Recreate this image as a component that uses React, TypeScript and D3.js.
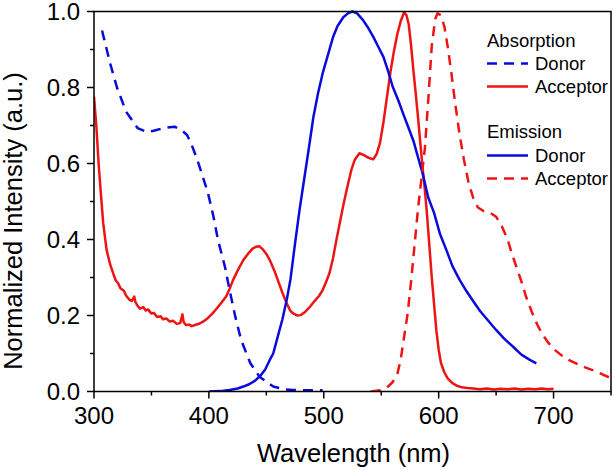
import React from "react";
import * as d3 from "d3";

const W = 614, H = 470;
const M = { left: 94, right: 3, top: 11.5, bottom: 78.5 };

const xTicks = [300, 400, 500, 600, 700];
const xMinor = [350, 450, 550, 650, 750];
const yTicks = [0, 0.2, 0.4, 0.6, 0.8, 1.0];
const yMinor = [0.1, 0.3, 0.5, 0.7, 0.9];

// Donor absorption (dashed blue)
const donorAbsWl = [307, 314, 320, 328, 338, 346, 352, 359, 364, 370, 376, 381, 385, 390, 399, 404, 408, 414, 418, 423, 428, 436, 444, 450, 456, 465, 473, 485, 499];
const donorAbsVal = [0.95, 0.864, 0.8, 0.736, 0.693, 0.683, 0.686, 0.692, 0.695, 0.697, 0.688, 0.675, 0.649, 0.609, 0.525, 0.46, 0.398, 0.328, 0.267, 0.197, 0.136, 0.075, 0.039, 0.026, 0.013, 0.006, 0.004, 0.003, 0.003];

// Acceptor absorption (solid red)
const accAbsWl = [300, 302, 304, 306, 308, 311, 314, 317, 319, 321, 323, 326, 328, 331, 333, 335, 336, 338, 340, 343, 345, 347, 350, 352, 355, 358, 360, 363, 366, 369, 372, 375, 377, 378, 380, 383, 385, 388, 392, 396, 399, 403, 407, 411, 415, 418, 421, 425, 430, 434, 438, 441, 444, 447, 450, 453, 457, 460, 464, 468, 471, 474, 477, 480, 484, 488, 492, 496, 499, 502, 505, 508, 511, 514, 517, 521, 524, 527, 531, 535, 539, 543, 546, 549, 552, 555, 558, 561, 564, 567, 570, 572, 574, 576, 578, 580, 582, 584, 586, 588, 590, 592, 594, 596, 598, 600, 602, 605, 608, 612, 616, 620, 625, 630, 636, 642, 648, 654, 660, 666, 672, 678, 684, 690, 695, 700];
const accAbsVal = [0.776, 0.7, 0.6, 0.52, 0.443, 0.372, 0.335, 0.308, 0.292, 0.285, 0.272, 0.265, 0.252, 0.241, 0.238, 0.25, 0.236, 0.225, 0.218, 0.222, 0.213, 0.216, 0.205, 0.207, 0.196, 0.198, 0.19, 0.192, 0.184, 0.186, 0.178, 0.18, 0.203, 0.183, 0.175, 0.176, 0.172, 0.175, 0.179, 0.186, 0.193, 0.205, 0.219, 0.234, 0.25, 0.27, 0.293, 0.318, 0.346, 0.362, 0.376, 0.381, 0.382, 0.374, 0.362, 0.346, 0.318, 0.293, 0.26, 0.23, 0.212, 0.204, 0.2, 0.201, 0.21, 0.223, 0.238, 0.252, 0.267, 0.288, 0.312, 0.35, 0.399, 0.445, 0.49, 0.545, 0.583, 0.61, 0.627, 0.622, 0.615, 0.611, 0.625, 0.655, 0.71, 0.775, 0.84, 0.895, 0.94, 0.975, 0.998, 0.99, 0.965, 0.91, 0.845, 0.785, 0.723, 0.655, 0.59, 0.53, 0.46, 0.38, 0.3, 0.23, 0.16, 0.11, 0.075, 0.05, 0.034, 0.022, 0.015, 0.011, 0.009, 0.008, 0.006, 0.008, 0.005, 0.007, 0.006, 0.008, 0.005, 0.007, 0.006, 0.008, 0.006, 0.007];

// Donor emission (solid blue)
const donorEmWl = [400, 410, 418, 425, 430, 435, 440, 445, 449, 453, 456, 460, 464, 468, 471, 475, 479, 483, 487, 491, 495, 499, 504, 508, 512, 517, 521, 525, 529, 534, 538, 543, 547, 552, 556, 560, 565, 569, 573, 578, 582, 586, 591, 596, 601, 607, 612, 618, 624, 630, 636, 643, 650, 657, 665, 672, 679, 685];
const donorEmVal = [0.0, 0.001, 0.004, 0.008, 0.013, 0.019, 0.028, 0.042, 0.058, 0.083, 0.1, 0.145, 0.19, 0.245, 0.295, 0.39, 0.48, 0.56, 0.64, 0.723, 0.785, 0.837, 0.89, 0.932, 0.962, 0.985, 0.995, 1.0, 0.995, 0.978, 0.96, 0.934, 0.91, 0.88, 0.843, 0.802, 0.765, 0.732, 0.7, 0.66, 0.617, 0.574, 0.51, 0.47, 0.416, 0.37, 0.33, 0.295, 0.265, 0.238, 0.212, 0.187, 0.162, 0.139, 0.117, 0.097, 0.084, 0.074];

// Acceptor emission (dashed red)
const accEmWl = [541, 549, 555, 560, 564, 567, 570, 573, 576, 579, 582, 585, 588, 591, 594, 597, 599, 602, 605, 608, 611, 614, 618, 622, 626, 630, 634, 639, 644, 650, 655, 660, 664, 668, 672, 676, 681, 686, 690, 695, 700, 707, 714, 721, 728, 735, 742, 750];
const accEmVal = [0.0, 0.003, 0.01, 0.025, 0.045, 0.085, 0.145, 0.205, 0.29, 0.385, 0.48, 0.56, 0.64, 0.77, 0.91, 0.98, 0.995, 0.99, 0.96, 0.905, 0.84, 0.767, 0.68, 0.61, 0.55, 0.51, 0.485, 0.475, 0.472, 0.46, 0.435, 0.4, 0.36, 0.325, 0.29, 0.25, 0.21, 0.175, 0.152, 0.13, 0.112, 0.095, 0.082, 0.072, 0.063, 0.055, 0.046, 0.035];

const BLUE = "#0a0adc";
const RED = "#ee1414";
const FONT = "'Liberation Sans', Arial, sans-serif";
const DASH = "10,7";

export default function App() {
  const x = d3.scaleLinear().domain([300, 750]).range([M.left, W - M.right]);
  const y = d3.scaleLinear().domain([0, 1]).range([H - M.bottom, M.top]);
  const line = d3.line<[number, number]>().x(d => x(d[0])).y(d => y(d[1]));
  const zip = (a: number[], b: number[]) => a.map((v, i) => [v, b[i]] as [number, number]);

  const series = [
    { d: zip(accAbsWl, accAbsVal), c: RED, dash: undefined },
    { d: zip(donorEmWl, donorEmVal), c: BLUE, dash: undefined },
    { d: zip(donorAbsWl, donorAbsVal), c: BLUE, dash: DASH },
    { d: zip(accEmWl, accEmVal), c: RED, dash: DASH },
  ];

  const x0 = M.left, x1 = W - M.right, y0 = H - M.bottom, y1 = M.top;
  const lgX = 487;
  const legend = [
    { t: "Absorption", yb: 47 },
    { t: "Donor", yb: 70, c: BLUE, dash: DASH },
    { t: "Acceptor", yb: 93, c: RED },
    { t: "Emission", yb: 138 },
    { t: "Donor", yb: 162, c: BLUE },
    { t: "Acceptor", yb: 185, c: RED, dash: DASH },
  ];

  return (
    <svg width={W} height={H} style={{ position: "absolute", left: 0, top: 0, background: "#fff" }} fontFamily={FONT}>
      <defs>
        <clipPath id="plot">
          <rect x={x0} y={y1 - 2} width={x1 - x0} height={y0 - y1 + 2} />
        </clipPath>
      </defs>
      <g clipPath="url(#plot)">
        {series.map((s, i) => (
          <path key={i} d={line(s.d) || ""} fill="none" stroke={s.c} strokeWidth={2.5}
            strokeDasharray={s.dash} strokeLinejoin="round" />
        ))}
      </g>
      <rect x={x0} y={y1} width={x1 - x0} height={y0 - y1} fill="none" stroke="#000" strokeWidth={1.5} />
      {xTicks.map(t => (
        <g key={"x" + t}>
          <line x1={x(t)} x2={x(t)} y1={y0} y2={y0 + 7} stroke="#000" strokeWidth={1.5} />
          <text x={x(t)} y={424} fontSize={24} textAnchor="middle">{t}</text>
        </g>
      ))}
      {xMinor.map(t => (
        <line key={"xm" + t} x1={x(t)} x2={x(t)} y1={y0} y2={y0 + 4} stroke="#000" strokeWidth={1.5} />
      ))}
      {yTicks.map(t => (
        <g key={"y" + t}>
          <line x1={x0 - 7} x2={x0} y1={y(t)} y2={y(t)} stroke="#000" strokeWidth={1.5} />
          <text x={80} y={y(t) + 8.5} fontSize={24} textAnchor="end">{t.toFixed(1)}</text>
        </g>
      ))}
      {yMinor.map(t => (
        <line key={"ym" + t} x1={x0 - 4} x2={x0} y1={y(t)} y2={y(t)} stroke="#000" strokeWidth={1.5} />
      ))}
      <text x={(x0 + x1) / 2 + 1} y={462} fontSize={25.5} textAnchor="middle">Wavelength (nm)</text>
      <text transform={`translate(22,221) rotate(-90)`} fontSize={25.5} textAnchor="middle">Normalized Intensity (a.u.)</text>
      {legend.map((l, i) => (
        <g key={"l" + i}>
          {l.c ? (
            <>
              <line x1={lgX} x2={lgX + 41} y1={l.yb - 6.5} y2={l.yb - 6.5} stroke={l.c} strokeWidth={2.5} strokeDasharray={l.dash} />
              <text x={535} y={l.yb} fontSize={18.5}>{l.t}</text>
            </>
          ) : (
            <text x={lgX} y={l.yb} fontSize={18.5}>{l.t}</text>
          )}
        </g>
      ))}
    </svg>
  );
}
